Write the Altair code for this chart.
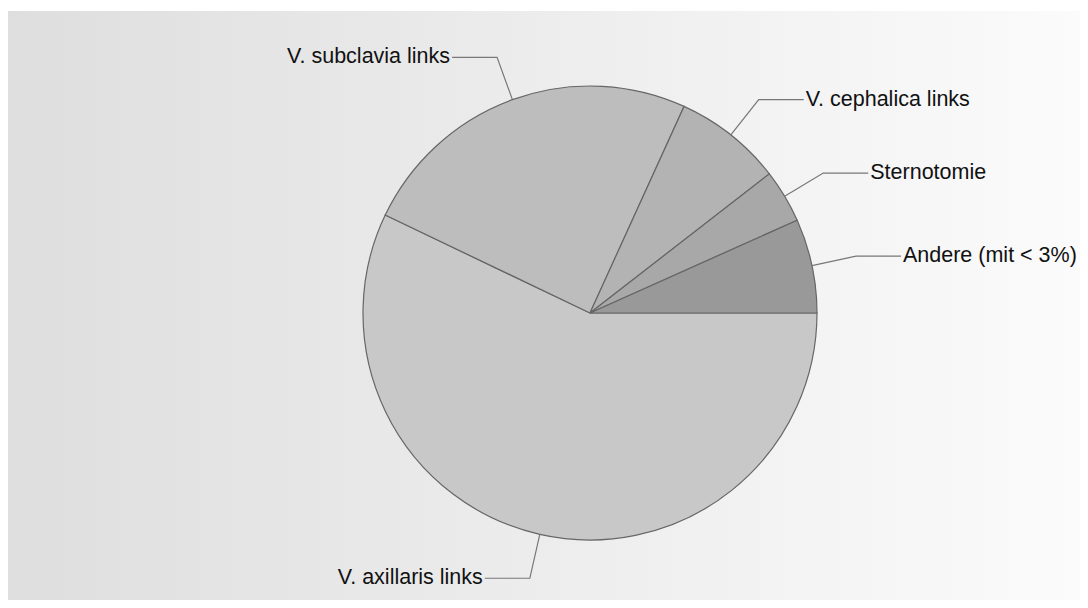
import math
import altair as alt
import pandas as pd

# Data (percent shares, clockwise from 3 o'clock)
categories = ["V. axillaris links", "V. subclavia links", "V. cephalica links", "Sternotomie", "Andere (mit < 3%)"]
shares = [57.1, 24.7, 7.7, 3.8, 6.7]
shades = ["#c8c8c8", "#bdbdbd", "#b3b3b3", "#a8a8a8", "#999999"]

W, H = 1072, 592
CX, CY = 582, 305     # pie centre inside the chart
R = 227               # pie radius in px
ELBOW = 45            # connector length beyond the rim (px)
HSEG = 45             # horizontal connector length (px)

total = sum(shares)
pie = pd.DataFrame({"cat": categories, "val": shares, "order": range(len(categories))})

# label geometry, in units of the pie radius (mapped by linear scales)
rows, lines = [], []
cum = 0.0
for c, v in zip(categories, shares):
    mid = -(cum + v / 2) / total * 2 * math.pi
    cum += v
    cx, cy = math.cos(mid), math.sin(mid)
    ex, ey = cx * (R + ELBOW) / R, cy * (R + ELBOW) / R
    side = "right" if cx >= 0 else "left"
    endx = ex + (HSEG / R if side == "right" else -HSEG / R)
    rows.append({"cat": c, "x": endx, "y": ey, "side": side})
    for i, (px, py) in enumerate([(cx, cy), (ex, ey), (endx, ey)]):
        lines.append({"cat": c, "i": i, "x": px, "y": py})
labels = pd.DataFrame(rows)
conn = pd.DataFrame(lines)

xs = alt.Scale(domain=[-CX / R, (W - CX) / R], range=[0, W])
ys = alt.Scale(domain=[-(H - CY) / R, CY / R], range=[H, 0])

bg = alt.Chart(alt.Data(values=[{"a": 1}])).mark_rect(
    color=alt.Gradient(
        gradient="linear",
        stops=[alt.GradientStop(color="#dedede", offset=0),
               alt.GradientStop(color="#fbfbfb", offset=1)],
        x1=0, x2=1, y1=0, y2=0,
    )
).encode(x=alt.value(-1), x2=alt.value(W), y=alt.value(3), y2=alt.value(H))

arcs = alt.Chart(pie).mark_arc(outerRadius=R, stroke="#666666", strokeWidth=1.2).encode(
    theta=alt.Theta("val:Q", stack=True, scale=alt.Scale(range=[math.pi / 2, math.pi / 2 + 2 * math.pi])),
    order=alt.Order("order:Q"),
    color=alt.Color("cat:N", scale=alt.Scale(domain=categories, range=shades), legend=None),
    x=alt.value(CX), y=alt.value(CY),
)

connectors = alt.Chart(conn).mark_line(color="#777777", strokeWidth=1.2).encode(
    x=alt.X("x:Q", scale=xs, axis=None),
    y=alt.Y("y:Q", scale=ys, axis=None),
    detail="cat:N",
    order="i:Q",
)

text_common = dict(font="Liberation Sans", fontSize=21.5, color="#111111", baseline="middle")
txt_r = alt.Chart(labels).transform_filter("datum.side == 'right'").mark_text(
    align="left", dx=2, **text_common
).encode(x=alt.X("x:Q", scale=xs, axis=None), y=alt.Y("y:Q", scale=ys, axis=None), text="cat:N")
txt_l = alt.Chart(labels).transform_filter("datum.side == 'left'").mark_text(
    align="right", dx=-2, **text_common
).encode(x=alt.X("x:Q", scale=xs, axis=None), y=alt.Y("y:Q", scale=ys, axis=None), text="cat:N")

chart = alt.layer(bg, arcs, connectors, txt_r, txt_l).properties(
    width=W, height=H, padding=0, autosize=alt.AutoSizeParams(type="none")
).configure_view(stroke=None)

chart.save("out.html", embed_options={"renderer": "svg", "actions": False})
